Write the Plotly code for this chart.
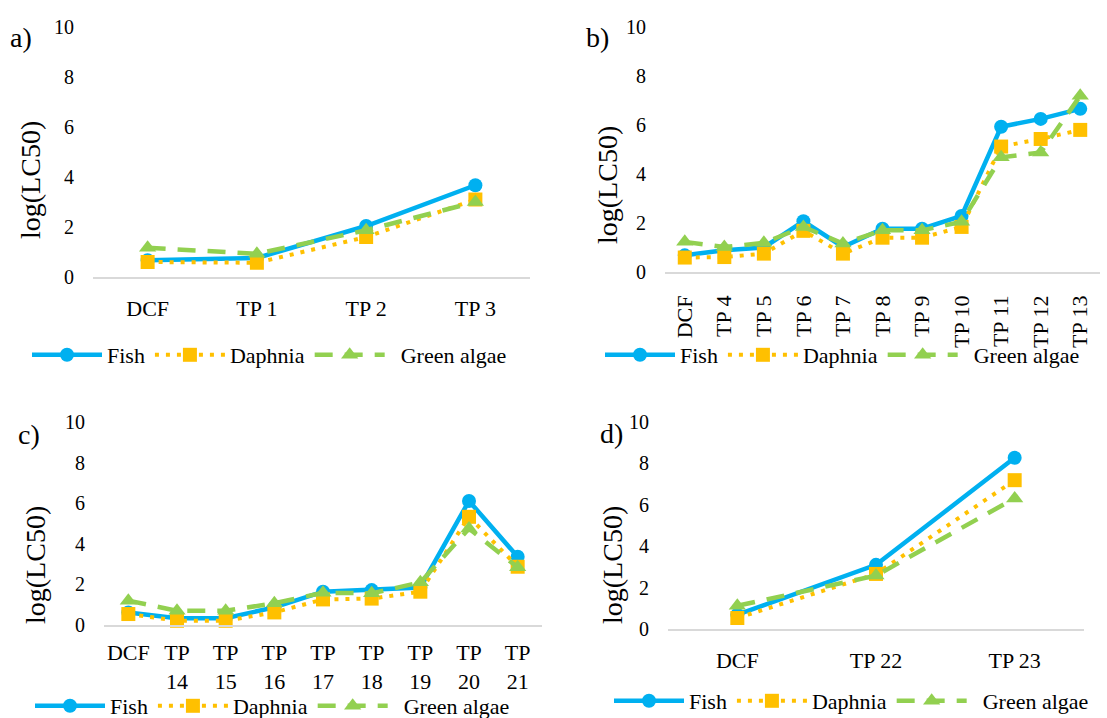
import plotly.graph_objects as go

# ---------------- data ----------------
cats_a = ["DCF", "TP 1", "TP 2", "TP 3"]
fish_a = [0.67, 0.76, 2.04, 3.67]
daph_a = [0.60, 0.57, 1.60, 3.10]
alga_a = [1.17, 0.93, 1.87, 3.00]

cats_b = ["DCF", "TP 4", "TP 5", "TP 6", "TP 7", "TP 8", "TP 9", "TP 10", "TP 11", "TP 12", "TP 13"]
fish_b = [0.68, 0.89, 1.00, 2.07, 1.02, 1.77, 1.77, 2.29, 5.93, 6.25, 6.66]
daph_b = [0.59, 0.61, 0.75, 1.68, 0.75, 1.40, 1.40, 1.84, 5.12, 5.43, 5.80]
alga_b = [1.23, 1.02, 1.19, 1.84, 1.16, 1.70, 1.70, 2.05, 4.68, 4.88, 7.19]

cats_c = ["DCF", "TP 14", "TP 15", "TP 16", "TP 17", "TP 18", "TP 19", "TP 20", "TP 21"]
fish_c = [0.62, 0.33, 0.33, 0.87, 1.64, 1.72, 1.85, 6.11, 3.36]
daph_c = [0.54, 0.21, 0.21, 0.62, 1.26, 1.30, 1.64, 5.33, 2.87]
alga_c = [1.20, 0.70, 0.70, 1.07, 1.59, 1.56, 2.10, 4.75, 2.84]

cats_d = ["DCF", "TP 22", "TP 23"]
fish_d = [0.69, 3.10, 8.27]
daph_d = [0.53, 2.66, 7.19]
alga_d = [1.12, 2.58, 6.31]

y_ticks = [0, 2, 4, 6, 8, 10]
series_names = ["Fish", "Daphnia", "\u00a0\u00a0Green algae"]
panel_labels = ["a)", "b)", "c)", "d)"]
y_title = "log(LC50)"

# ---------------- style ----------------
W, H = 1107, 718
FONT = "Liberation Serif, DejaVu Serif, serif"
C_FISH, C_DAPH, C_ALGA = "#00B0F0", "#FFC000", "#92D050"

styles = [
    dict(line=dict(color=C_FISH, width=4.5), marker=dict(symbol="circle", size=14, color=C_FISH)),
    dict(line=dict(color=C_DAPH, width=4, dash="4px,7px"), marker=dict(symbol="square", size=14, color=C_DAPH)),
    dict(line=dict(color=C_ALGA, width=4.5, dash="18px,12px"), marker=dict(symbol="triangle-up", size=15, color=C_ALGA)),
]

# pixel boxes of plot areas: (x0, x1, ytop, ybottom)
boxes = [(93, 530, 27, 277), (665, 1100, 27, 272), (104, 542, 422, 625), (668, 1084, 422, 629)]
legend_pos = [(27, 355), (600, 355), (30, 706), (609, 701)]
ytitle_pos = [(30, 180), (607, 185), (35, 565), (612, 565)]
plabel_pos = [(21, 37), (597, 37), (29, 435), (611, 433)]
xlab_standoff = [11, 13, 7, 11]

panels = [
    (cats_a, [fish_a, daph_a, alga_a]),
    (cats_b, [fish_b, daph_b, alga_b]),
    (cats_c, [fish_c, daph_c, alga_c]),
    (cats_d, [fish_d, daph_d, alga_d]),
]

fig = go.Figure()
annotations = []
layout = dict(
    width=W, height=H,
    margin=dict(l=0, r=0, t=0, b=0, autoexpand=False),
    paper_bgcolor="white", plot_bgcolor="white",
    font=dict(family=FONT, color="black"),
    showlegend=True,
    hovermode=False,
)

for i, (cats, vals) in enumerate(panels):
    k = "" if i == 0 else str(i + 1)
    x0, x1, yt, yb = boxes[i]
    legname = "legend" + k
    for j, v in enumerate(vals):
        fig.add_trace(go.Scatter(
            x=cats, y=v, mode="lines+markers", name=series_names[j],
            xaxis="x" + k, yaxis="y" + k, legend=legname,
            cliponaxis=False, **styles[j]))
    if i == 2:
        ticktext = [c.replace(" ", "<br>") for c in cats]
    else:
        ticktext = cats
    layout["xaxis" + k] = dict(
        domain=[x0 / W, x1 / W], anchor="y" + k,
        type="category", categoryorder="array", categoryarray=cats,
        range=[-0.5, len(cats) - 0.5],
        tickmode="array", tickvals=cats, ticktext=ticktext,
        tickangle=-90 if i == 1 else 0,
        showgrid=False, zeroline=False, showline=True,
        linecolor="#D9D9D9", linewidth=1.5, ticks="",
        tickfont=dict(family=FONT, size=22, color="black"),
        ticklabelstandoff=xlab_standoff[i],
        fixedrange=True,
    )
    layout["yaxis" + k] = dict(
        domain=[1 - yb / H, 1 - yt / H], anchor="x" + k,
        range=[0, 10], tickvals=y_ticks,
        showgrid=False, zeroline=False, showline=False, ticks="",
        tickfont=dict(family=FONT, size=20, color="black"),
        ticklabelstandoff=18,
        fixedrange=True,
    )
    lx, ly = legend_pos[i]
    layout[legname] = dict(
        orientation="h", x=lx / W, y=1 - ly / H, xanchor="left", yanchor="middle",
        xref="paper", yref="paper",
        font=dict(family=FONT, size=22, color="black"),
        bgcolor="rgba(0,0,0,0)", itemwidth=70, traceorder="normal",
    )
    tx, ty = ytitle_pos[i]
    annotations.append(dict(
        text=y_title, x=tx / W, y=1 - ty / H, xref="paper", yref="paper",
        textangle=-90, showarrow=False, xanchor="center", yanchor="middle",
        font=dict(family=FONT, size=28, color="black")))
    px, py = plabel_pos[i]
    annotations.append(dict(
        text=panel_labels[i], x=px / W, y=1 - py / H, xref="paper", yref="paper",
        showarrow=False, xanchor="center", yanchor="middle",
        font=dict(family=FONT, size=28, color="black")))

layout["annotations"] = annotations
fig.update_layout(**layout)
fig.write_html("out.html", config={"displayModeBar": False})
